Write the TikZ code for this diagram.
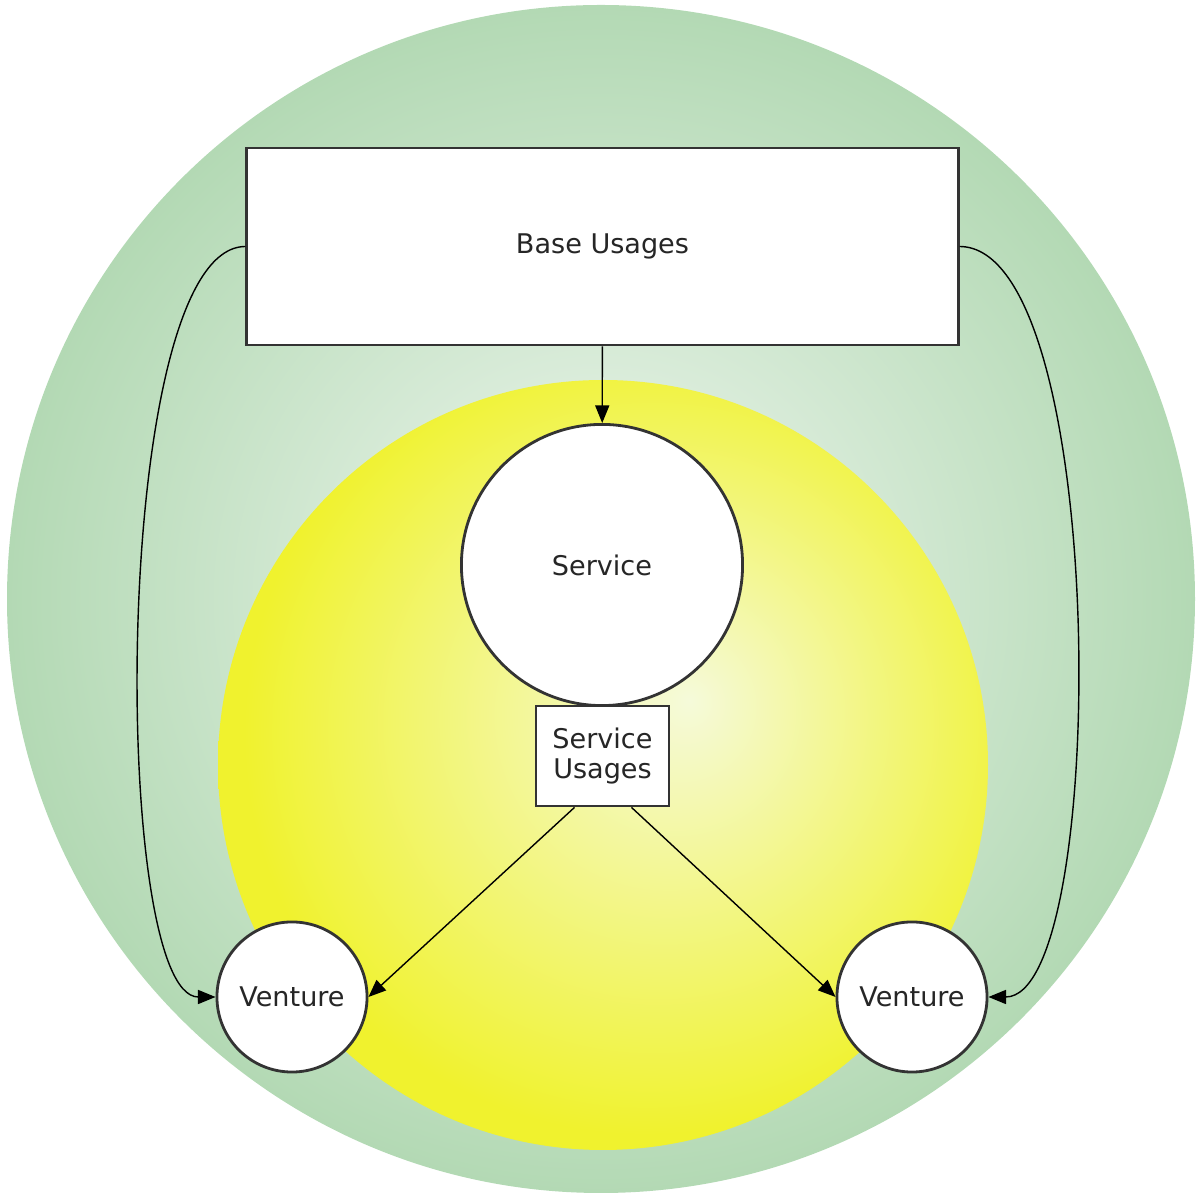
\documentclass[tikz,border=0pt]{standalone}
\usepackage{fontspec}
\usetikzlibrary{arrows.meta}
\newfontfamily\labelfont{DejaVu Sans}
\definecolor{greenedge}{HTML}{B3D9B4}
\definecolor{greenmid}{HTML}{E2F0E2}
\definecolor{greencore}{HTML}{F4FAF4}
\definecolor{yellowedge}{HTML}{F0F22E}
\definecolor{yellowcore}{HTML}{F5FADA}
\definecolor{framegray}{HTML}{333333}
\pgfdeclareradialshading{greenglow}{\pgfpoint{0bp}{0bp}}{color(0bp)=(greencore); color(6bp)=(greenmid); color(25bp)=(greenedge); color(50bp)=(greenedge)}
\pgfdeclareradialshading{yellowglow}{\pgfpoint{5.6bp}{4.2bp}}{color(0bp)=(yellowcore); color(26bp)=(yellowedge); color(50bp)=(yellowedge)}
\begin{document}
\begin{tikzpicture}[x=0.01cm, y=-0.01cm,
    every node/.style={font=\labelfont\fontsize{7.7}{8.6}\selectfont, text=black!85},
    usagebox/.style={draw=framegray, line width=0.8pt, fill=white, align=center},
    entity/.style={draw=framegray, line width=0.8pt, fill=white, circle},
    link/.style={draw=black, line width=0.4pt, -{Triangle[length=5pt, width=4pt]}}]
    % \draw[help lines] (0, 0) grid (1196, 1195);
    \useasboundingbox (0, 0) rectangle (1196, 1195);
    \shade[shading=greenglow] (601, 599) circle[radius=594];
    \shade[shading=yellowglow] (603, 765) circle[radius=385];

    \node[usagebox, minimum width=7.11cm, minimum height=1.97cm] (base) at (602.5, 246.5) {Base Usages};
    \node[entity, minimum size=2.81cm] (service) at (602, 565) {Service};
    \node[usagebox, minimum width=1.33cm, minimum height=1cm, inner sep=1pt] (susage) at (602.5, 756) {Service\\Usages};
    \node[entity, minimum size=1.5cm] (ventL) at (292, 997) {Venture};
    \node[entity, minimum size=1.5cm] (ventR) at (912, 997) {Venture};

    \draw[link] (base) -- (service);
    \draw[link] ([xshift=-0.28cm]susage.south) -- (ventL.east);
    \draw[link] ([xshift=0.29cm]susage.south) -- (ventR.west);
    \draw[link] (base.west) .. controls (110, 247) and (110, 997) .. (ventL.west);
    \draw[link] (base.east) .. controls (1110, 247) and (1110, 997) .. (ventR.east);
  \end{tikzpicture}
\end{document}
